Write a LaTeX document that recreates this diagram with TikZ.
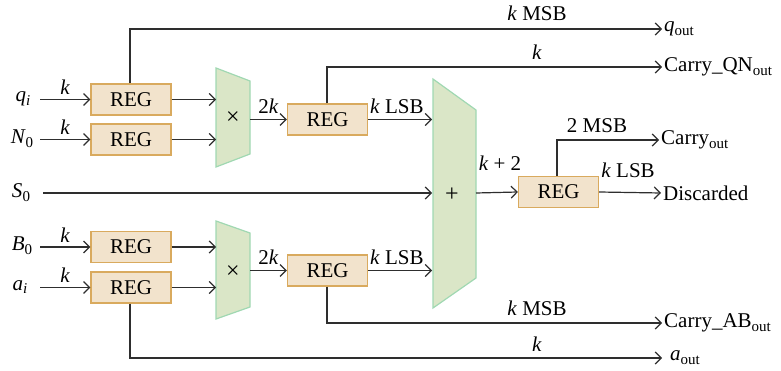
\documentclass[tikz,border=0pt]{standalone}
\usepackage{fontspec}
\setmainfont{Liberation Serif}
\usetikzlibrary{arrows.meta}
\definecolor{regfill}{HTML}{F2E3CC}
\definecolor{regdraw}{HTML}{D9AA5E}
\definecolor{opfill}{HTML}{DAE6C7}
\definecolor{opdraw}{HTML}{A0D8B2}
\definecolor{wirecol}{HTML}{2E2E2E}
\newcommand\sbs[1]{\raisebox{-0.4ex}{\fontsize{15}{15}\selectfont #1}}
\newcommand\vk{\textit{k}}
\begin{document}
\begin{tikzpicture}[x=1pt,y=-1pt,font=\fontsize{21}{25}\selectfont,
  wire/.style={draw=wirecol,line width=1.2pt},
  arr/.style={wire,-{Straight Barb[length=6pt,width=12pt,line width=1.2pt]}},
  regbox/.style={draw=regdraw,fill=regfill,line width=1.2pt,minimum width=80pt,minimum height=31pt,inner sep=0pt},
  opshape/.style={draw=opdraw,fill=opfill,line width=1.2pt},
  lbl/.style={inner sep=0pt,text=black},
  opsym/.style={inner sep=0pt,font=\fontsize{24}{24}\selectfont},
  inlbl/.style={inner sep=0pt,anchor=center},
  outlbl/.style={inner sep=2pt,anchor=west}]
\useasboundingbox (0,0) rectangle (781,371);
% registers
\node[regbox] (r1) at (131,99.5) {REG};
\node[regbox] (r2) at (131,139.5) {REG};
\node[regbox] (r3) at (327.5,119.5) {REG};
\node[regbox] (r4) at (558.5,192) {REG};
\node[regbox] (r5) at (131,247) {REG};
\node[regbox] (r6) at (131,287.5) {REG};
\node[regbox] (r7) at (327.5,270.5) {REG};
% operators
\draw[opshape] (216,68) -- (250,81) -- (250,154) -- (216,167) -- cycle;
\draw[opshape] (216,221) -- (250,233) -- (250,307) -- (216,319) -- cycle;
\draw[opshape] (433,79) -- (476,110) -- (476,278) -- (433,308) -- cycle;
\node[opsym] (m1) at (233,118) {×};
\node[opsym] (m2) at (233,272) {×};
\node[opsym] (ad) at (452,195) {+};
\coordinate (m1a) at (216,99.5);
\coordinate (m1b) at (216,139.5);
\coordinate (m1o) at (250,119.5);
\coordinate (m2a) at (216,247);
\coordinate (m2b) at (216,287.5);
\coordinate (m2o) at (250,270.5);
\coordinate (ada) at (432,119.5);
\coordinate (adb) at (432,193);
\coordinate (adc) at (432,270.5);
\coordinate (ado) at (476,193);
% inputs
\node[inlbl] (qi) at (23,99) {\textit{q}\sbs{\textit{i}}};
\node[inlbl] (n0) at (22,139) {\textit{N}\sbs{0}};
\node[inlbl] (s0) at (21,193) {\textit{S}\sbs{0}};
\node[inlbl] (b0) at (22,246) {\textit{B}\sbs{0}};
\node[inlbl] (ai) at (20,287) {\textit{a}\sbs{\textit{i}}};
\coordinate (qis) at (40,99.5);
\coordinate (n0s) at (40,139.5);
\coordinate (s0s) at (43,193);
\coordinate (b0s) at (40,247);
\coordinate (ais) at (40,287.5);
\draw[arr] (qis) -- (r1.west) node[lbl,midway,above=4pt] (k1) {\vk};
\draw[arr] (n0s) -- (r2.west) node[lbl,midway,above=4pt] (k2) {\vk};
\draw[arr] (b0s) -- (r5.west) node[lbl,midway,above=4pt] (k3) {\vk};
\draw[arr] (ais) -- (r6.west) node[lbl,midway,above=4pt] (k4) {\vk};
\draw[arr] (s0s) -- (adb);
% to multipliers
\draw[arr] (r1.east) -- (m1a);
\draw[arr] (r2.east) -- (m1b);
\draw[arr] (r5.east) -- (m2a);
\draw[arr] (r6.east) -- (m2b);
\draw[arr] (m1o) -- (r3.west) node[lbl,midway,above=5pt] (l2k1) {2\vk};
\draw[arr] (m2o) -- (r7.west) node[lbl,midway,above=5pt] (l2k2) {2\vk};
\draw[arr] (r3.east) -- (ada) node[lbl,pos=0.45,above=5pt] (lsb1) {\vk{} LSB};
\draw[arr] (r7.east) -- (adc) node[lbl,pos=0.45,above=5pt] (lsb2) {\vk{} LSB};
\draw[arr] (ado) -- (r4.west);
\node[lbl] (kp2) at (500,163) {\vk{} + 2};
% outputs
\coordinate (qo) at (662,29);
\coordinate (cqo) at (662,67);
\coordinate (co) at (659,140);
\coordinate (dso) at (661,193);
\coordinate (cabo) at (662,323);
\coordinate (ao) at (662,358);
\draw[arr] ([xshift=-1pt]r1.north) |- (qo);
\draw[arr] ([xshift=-0.5pt]r3.north) |- (cqo);
\draw[arr] ([xshift=-1.5pt]r4.north) |- (co);
\draw[arr] (r4.east) -- (dso);
\draw[arr] ([xshift=-0.5pt]r7.south) |- (cabo);
\draw[arr] ([xshift=-1pt]r6.south) |- (ao);
\node[lbl] (t1) at (537,13) {\vk{} MSB};
\node[lbl] (t2) at (537,52) {\vk};
\node[lbl] (t3) at (597,126) {2 MSB};
\node[lbl] (t4) at (628,170) {\vk{} LSB};
\node[lbl] (t5) at (537,308) {\vk{} MSB};
\node[lbl] (t6) at (537,344) {\vk};
\node[outlbl] at (qo) {\textit{q}\sbs{out}};
\node[outlbl] at (cqo) {Carry\_QN\sbs{out}};
\node[outlbl] at (co) {Carry\sbs{out}};
\node[outlbl] at (dso) {Discarded};
\node[outlbl] at (cabo) {Carry\_AB\sbs{out}};
\node[outlbl,xshift=6pt] at (ao) {\textit{a}\sbs{out}};
\end{tikzpicture}
\end{document}
